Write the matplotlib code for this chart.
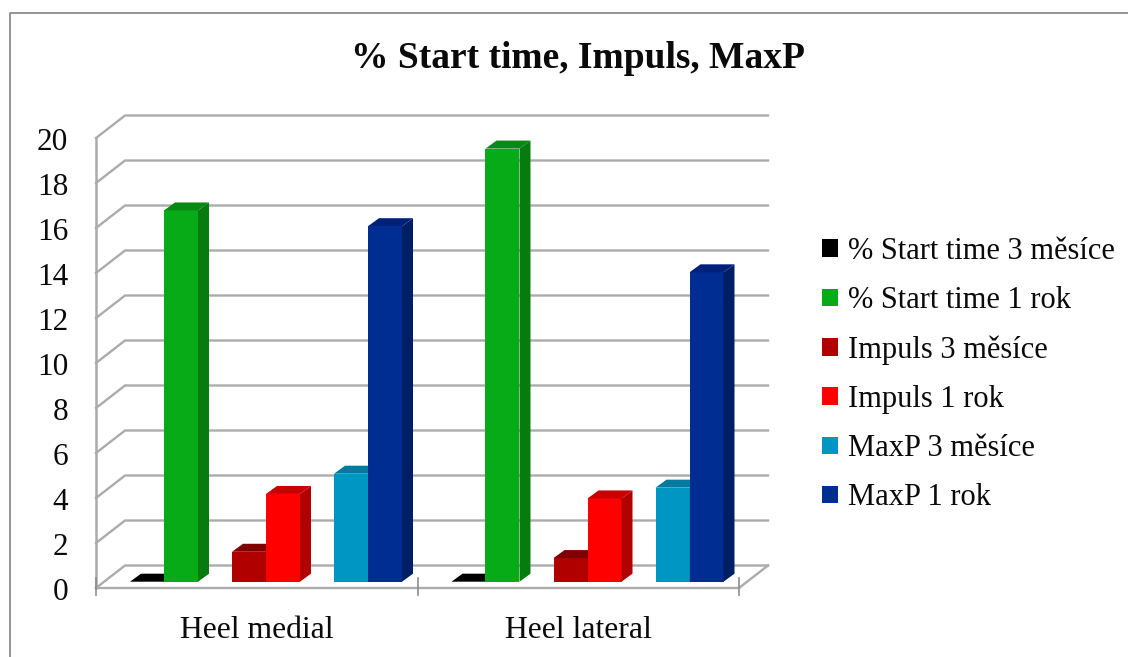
import matplotlib
matplotlib.use('Agg')
import matplotlib.pyplot as plt
from matplotlib.patches import Polygon, Patch
from matplotlib.lines import Line2D
from matplotlib.transforms import ScaledTranslation

plt.rcParams['font.family'] = ['Liberation Serif', 'DejaVu Serif']

categories = ['Heel medial', 'Heel lateral']
series_names = ['% Start time 3 měsíce', '% Start time 1 rok', 'Impuls 3 měsíce',
                'Impuls 1 rok', 'MaxP 3 měsíce', 'MaxP 1 rok']
start_3m = [0, 0]
start_1r = [16.5, 19.25]
impuls_3m = [1.33, 1.05]
impuls_1r = [3.9, 3.7]
maxp_3m = [4.8, 4.18]
maxp_1r = [15.8, 13.75]
y_ticks = list(range(0, 21, 2))

values = [start_3m, start_1r, impuls_3m, impuls_1r, maxp_3m, maxp_1r]
front_colors = ['#000000', '#07AB17', '#B00000', '#FF0000', '#0096C4', '#002D92']
side_colors = ['#000000', '#077A10', '#8A0000', '#B00000', '#007A9E', '#001E64']
top_colors = ['#000000', '#068A12', '#800000', '#C80000', '#007A9E', '#00217A']

W, H = 1128, 657
fig = plt.figure(figsize=(W / 100, H / 100), dpi=100)

# outer chart frame, cut by the image edge
fig.add_artist(Line2D([10 / W, 10 / W, 1], [0, 1 - 13 / H, 1 - 13 / H],
                      color='#8C8C8C', lw=1.3))

# axes cover the front plane of the fake 3d box
ax = fig.add_axes([96 / W, 1 - 588 / H, 643 / W, 450 / H])
ax.set_xlim(0, 2)
ax.set_ylim(0, 20)
ax.patch.set_alpha(0)
for s in ax.spines.values():
    s.set_visible(False)

# depth of the box and of the bars, in data units
box_dx, box_dy = 29 / 321.5, 1.0
bar_dx, bar_dy = 11 / 321.5, 8 / 22.5
base_dx, base_dy = 9 / 321.5, 0.28
bar_w = 34 / 321.5
margin = 25 / 321.5
slots = [0, 1, 3, 4, 6, 7]

grid_c = '#ABABAB'
for t in y_ticks:
    ax.plot([0, box_dx, 2 + box_dx], [t, t + box_dy, t + box_dy],
            color=grid_c, lw=1.7, clip_on=False, zorder=1, solid_joinstyle='miter')
ax.plot([0, 0], [0, 20], color=grid_c, lw=1.8, clip_on=False, zorder=1)
ax.plot([0, 2, 2 + box_dx], [0, 0, box_dy], color=grid_c, lw=1.7, clip_on=False, zorder=1)
for t in range(3):
    ax.plot([t, t], [-0.3, 0.45], color='#8C8C8C', lw=1.2, clip_on=False, zorder=1)

z = 3
for g in range(len(categories)):
    for i, vals in enumerate(values):
        v = vals[g]
        x0 = g + margin + base_dx + slots[i] * bar_w
        x1 = x0 + bar_w
        b = base_dy
        ax.bar(x0, v, width=bar_w, bottom=b, align='edge', color=front_colors[i],
               lw=0, zorder=z, clip_on=False)
        ax.add_patch(Polygon([(x1, b), (x1 + bar_dx, b + bar_dy), (x1 + bar_dx, b + v + bar_dy), (x1, b + v)],
                             fc=side_colors[i], lw=0, zorder=z, clip_on=False))
        ax.add_patch(Polygon([(x0, b + v), (x0 + bar_dx, b + v + bar_dy), (x1 + bar_dx, b + v + bar_dy), (x1, b + v)],
                             fc=top_colors[i], lw=0, zorder=z, clip_on=False))
        z += 1

ax.set_yticks(y_ticks)
ax.set_yticklabels([str(t) for t in y_ticks])
ax.set_xticks([0.5, 1.5])
ax.set_xticklabels(categories)
ax.tick_params(axis='y', length=0, pad=20, labelsize=22.5, labelcolor='#0A0A0A')
ax.tick_params(axis='x', length=0, pad=20, labelsize=22.8, labelcolor='#0A0A0A')
# tick labels sit a little below their gridline in the original
shift = ScaledTranslation(0, -1 / 100, fig.dpi_scale_trans)
for lab in ax.get_yticklabels():
    lab.set_transform(lab.get_transform() + shift)

handles = [Patch(fc=c, lw=0) for c in front_colors]
leg = ax.legend(handles, series_names, loc='upper left', bbox_to_anchor=(822 / W, 1 - 237 / H),
                bbox_transform=fig.transFigure, frameon=False, fontsize=22, handlelength=0.52,
                handleheight=0.5, handletextpad=0.33, labelspacing=0.66, labelcolor='#0A0A0A',
                borderpad=0, borderaxespad=0)

fig.text(578 / W, 1 - 59 / H, '% Start time, Impuls, MaxP', ha='center', va='center',
         fontsize=27, fontweight='bold', color='#0A0A0A')

fig.savefig('out.png', dpi=100)
